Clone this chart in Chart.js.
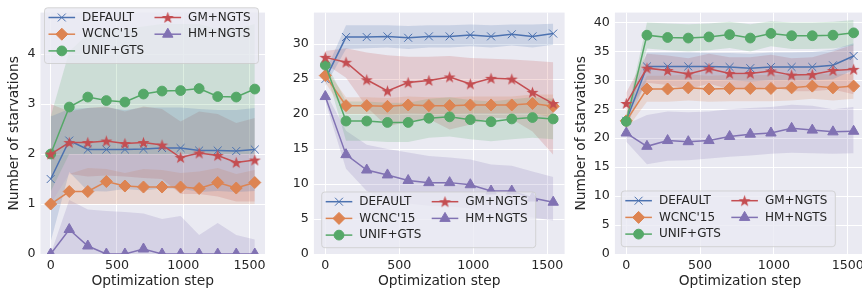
<!DOCTYPE html>
<html>
<head>
<meta charset="utf-8">
<script src="https://cdn.jsdelivr.net/npm/chart.js@4.4.1/dist/chart.umd.min.js"></script>
<style>
  body { margin: 0; background: #fff; overflow: hidden; width: 862px; height: 297px; position: relative; }
  canvas { position: absolute; top: 0; }
</style>
</head>
<body>
<canvas id="c1" width="272" height="297" style="left:0px"></canvas>
<canvas id="c2" width="300" height="297" style="left:272px"></canvas>
<canvas id="c3" width="300" height="297" style="left:572px"></canvas>
<script>
// optimization steps (x)
const steps = [0, 140, 280, 420, 560, 700, 840, 980, 1120, 1260, 1400, 1540];
const xTicks = [0, 500, 1000, 1500];
const seriesNames = ["DEFAULT", "WCNC'15", "UNIF+GTS", "GM+NGTS", "HM+NGTS"];

// ---- panel 1 ----
const p1Default   = [1.5, 2.27, 2.09, 2.09, 2.09, 2.1, 2.12, 2.12, 2.07, 2.07, 2.06, 2.09];
const p1DefaultHi = [2.75, 2.9, 2.92, 2.93, 2.88, 2.93, 2.93, 2.93, 2.9, 2.88, 2.88, 2.92];
const p1DefaultLo = [0.25, 1.64, 1.26, 1.25, 1.3, 1.27, 1.31, 1.31, 1.24, 1.26, 1.24, 1.26];
const p1Wcnc   = [1.0, 1.25, 1.25, 1.45, 1.36, 1.34, 1.34, 1.34, 1.31, 1.43, 1.32, 1.43];
const p1WcncHi = [1.0, 1.6, 1.72, 1.7, 1.62, 1.7, 1.68, 1.62, 1.65, 1.72, 1.6, 1.68];
const p1WcncLo = [1.0, 1.0, 1.0, 1.0, 1.0, 1.0, 1.0, 1.0, 1.0, 1.0, 1.0, 1.0];
const p1Unif   = [2.0, 2.94, 3.14, 3.07, 3.04, 3.2, 3.26, 3.27, 3.31, 3.15, 3.14, 3.3];
const p1UnifHi = [2.75, 4.05, 4.4, 4.5, 4.5, 4.55, 4.6, 4.6, 4.6, 4.5, 4.5, 4.6];
const p1UnifLo = [1.25, 2.0, 2.0, 2.0, 2.0, 2.0, 2.0, 2.0, 2.0, 2.0, 2.0, 2.0];
const p1Gm   = [2.0, 2.23, 2.23, 2.26, 2.21, 2.23, 2.18, 1.93, 2.02, 1.97, 1.83, 1.88];
const p1GmHi = [3.0, 2.85, 2.92, 2.95, 2.85, 2.95, 2.9, 2.65, 2.85, 2.8, 2.62, 2.72];
const p1GmLo = [1.0, 1.6, 1.55, 1.57, 1.55, 1.52, 1.5, 1.2, 1.2, 1.15, 1.05, 1.05];
const p1Hm   = [0, 0.49, 0.16, 0, 0, 0.1, 0, 0, 0, 0, 0, 0];
const p1HmHi = [0, 1.08, 0.89, 0.86, 0.84, 0.81, 0.7, 0.76, 0.38, 0.62, 0.38, 0.29];
const p1HmLo = [0, 0, 0, 0, 0, 0, 0, 0, 0, 0, 0, 0];
const p1YTicks = [0, 1, 2, 3, 4];

// ---- panel 2 ----
const p2Default   = [25.0, 31.0, 31.0, 31.1, 30.9, 31.1, 31.1, 31.3, 31.1, 31.4, 31.1, 31.5];
const p2DefaultHi = [26.0, 32.7, 32.7, 32.7, 32.6, 32.7, 32.7, 32.8, 32.7, 32.8, 32.8, 32.9];
const p2DefaultLo = [24.0, 29.3, 29.4, 29.5, 29.3, 29.5, 29.5, 29.7, 29.5, 29.8, 29.5, 29.9];
const p2Wcnc   = [25.5, 21.2, 21.2, 21.1, 21.3, 21.2, 21.2, 21.3, 21.3, 21.3, 21.5, 21.1];
const p2WcncHi = [26.5, 22.4, 22.4, 22.3, 22.5, 22.4, 22.4, 22.5, 22.5, 22.5, 22.8, 22.8];
const p2WcncLo = [24.5, 20.0, 20.0, 19.9, 20.1, 20.0, 20.0, 20.1, 20.1, 20.1, 20.2, 19.4];
const p2Unif   = [27.0, 19.0, 19.0, 18.8, 18.8, 19.4, 19.6, 19.2, 18.9, 19.3, 19.5, 19.3];
const p2UnifHi = [27.5, 21.8, 21.8, 21.6, 21.6, 22.2, 22.4, 22.0, 21.8, 22.1, 22.4, 22.2];
const p2UnifLo = [26.5, 16.2, 16.2, 16.0, 16.0, 16.6, 16.8, 16.4, 16.1, 16.4, 16.6, 16.4];
const p2Gm   = [28.1, 27.4, 24.9, 23.3, 24.5, 24.8, 25.3, 24.3, 25.1, 25.0, 23.1, 21.5];
const p2GmHi = [29.0, 29.4, 28.8, 28.4, 28.2, 28.2, 28.3, 28.0, 27.9, 27.8, 27.6, 27.4];
const p2GmLo = [27.2, 25.2, 21.0, 18.2, 19.0, 19.3, 17.8, 18.5, 19.5, 19.3, 17.5, 14.2];
const p2Hm   = [22.5, 14.2, 12.0, 11.3, 10.5, 10.2, 10.2, 9.9, 9.0, 9.0, 8.0, 7.4];
const p2HmHi = [23.2, 17.6, 15.6, 15.0, 14.5, 14.0, 13.8, 13.5, 12.8, 12.6, 11.8, 11.0];
const p2HmLo = [21.8, 12.2, 9.0, 7.8, 7.2, 6.9, 6.8, 6.5, 5.8, 5.8, 5.2, 4.8];
const p2YTicks = [0, 5, 10, 15, 20, 25, 30];

// ---- panel 3 ----
const p3Default   = [23.0, 32.4, 32.4, 32.4, 32.4, 32.3, 32.1, 32.3, 32.3, 32.3, 32.6, 34.2];
const p3DefaultHi = [24.0, 34.8, 34.8, 34.8, 34.7, 34.7, 34.6, 34.8, 34.8, 34.9, 35.3, 36.4];
const p3DefaultLo = [22.0, 30.1, 30.1, 30.1, 30.1, 30.0, 29.8, 30.0, 30.0, 30.0, 30.2, 31.8];
const p3Wcnc   = [23.0, 28.5, 28.5, 28.7, 28.5, 28.6, 28.6, 28.6, 28.7, 29.0, 28.7, 29.0];
const p3WcncHi = [24.5, 30.8, 30.8, 31.0, 30.8, 30.9, 30.9, 30.9, 31.0, 31.2, 31.0, 31.2];
const p3WcncLo = [21.5, 26.3, 26.3, 26.5, 26.3, 26.4, 26.4, 26.4, 26.5, 26.8, 26.5, 26.8];
const p3Unif   = [22.9, 37.8, 37.4, 37.3, 37.5, 37.9, 37.3, 38.1, 37.7, 37.7, 37.8, 38.2];
const p3UnifHi = [23.9, 40.0, 39.8, 39.7, 39.8, 40.1, 39.7, 40.2, 40.0, 40.0, 40.1, 40.4];
const p3UnifLo = [21.9, 35.5, 35.2, 35.0, 35.2, 35.6, 35.0, 35.9, 35.4, 35.4, 35.5, 36.0];
const p3Gm   = [26.0, 32.1, 31.7, 31.1, 32.0, 31.2, 31.2, 31.6, 30.9, 31.0, 31.7, 31.9];
const p3GmHi = [27.9, 34.6, 34.3, 33.8, 34.6, 34.0, 34.0, 34.4, 33.8, 34.0, 35.0, 36.2];
const p3GmLo = [24.1, 29.6, 29.2, 28.5, 29.4, 28.5, 28.5, 28.9, 28.1, 28.1, 28.4, 27.6];
const p3Hm   = [20.9, 18.6, 19.6, 19.4, 19.6, 20.3, 20.7, 20.9, 21.7, 21.4, 21.1, 21.2];
const p3HmHi = [22.4, 24.0, 24.6, 24.5, 24.6, 25.0, 25.2, 25.4, 25.8, 25.6, 25.0, 25.4];
const p3HmLo = [19.4, 15.5, 16.1, 16.2, 16.5, 16.8, 17.0, 17.3, 17.5, 17.4, 17.3, 17.4];
const p3YTicks = [0, 5, 10, 15, 20, 25, 30, 35, 40];

const FONT = "'DejaVu Sans'";
const TEXT = '#262626';
const colors = ['#4C72B0', '#DD8452', '#55A868', '#C44E52', '#8172B3'];

function rgba(hex, a) {
    const n = parseInt(hex.slice(1), 16);
    return `rgba(${n >> 16}, ${(n >> 8) & 255}, ${n & 255}, ${a})`;
}

// filled five point star like matplotlib '*'
function starImage(color, r) {
    const c = document.createElement('canvas');
    const s = Math.ceil(r * 2) + 2;
    c.width = c.height = s;
    const g = c.getContext('2d');
    g.beginPath();
    for (let k = 0; k < 10; k++) {
        const rad = k % 2 ? r * 0.4 : r;
        const a = -Math.PI / 2 + k * Math.PI / 5;
        g.lineTo(s / 2 + rad * Math.cos(a), s / 2 + rad * Math.sin(a) + 0.5);
    }
    g.closePath();
    g.fillStyle = color;
    g.fill();
    return c;
}

const markers = [
    { pointStyle: 'crossRot', radius: 5.6, borderWidth: 1 },
    { pointStyle: 'rectRot', radius: 6, borderWidth: 1 },
    { pointStyle: 'circle', radius: 4.9, borderWidth: 1 },
    { pointStyle: starImage(colors[3], 6.3), radius: 6, borderWidth: 0 },
    { pointStyle: 'triangle', radius: 6, borderWidth: 1 }
];

const plotBg = {
    id: 'plotBg',
    beforeDraw(chart) {
        const a = chart.chartArea;
        chart.ctx.save();
        chart.ctx.fillStyle = '#EAEAF2';
        chart.ctx.fillRect(a.left, a.top, a.right - a.left, a.bottom - a.top);
        chart.ctx.restore();
    }
};

const boxLegend = {
    id: 'boxLegend',
    afterDatasetsDraw(chart, args, opts) {
        const ctx = chart.ctx;
        const x = opts.x, y = opts.y, w = 214, h = 55.7;
        ctx.save();
        ctx.beginPath();
        ctx.roundRect(x, y, w, h, 3);
        ctx.fillStyle = 'rgba(234, 234, 242, 0.8)';
        ctx.fill();
        ctx.strokeStyle = 'rgba(204, 204, 204, 0.8)';
        ctx.lineWidth = 1;
        ctx.stroke();
        ctx.font = `12px ${FONT}`;
        ctx.textBaseline = 'middle';
        seriesNames.forEach((name, i) => {
            const col = i < 3 ? 0 : 1;
            const row = i < 3 ? i : i - 3;
            const lx = x + (col ? 110 : 4);
            const ly = y + 9.7 + row * 16.7;
            ctx.strokeStyle = colors[i];
            ctx.fillStyle = colors[i];
            ctx.lineWidth = 1.5;
            ctx.beginPath();
            ctx.moveTo(lx, ly);
            ctx.lineTo(lx + 26.6, ly);
            ctx.stroke();
            const m = markers[i];
            ctx.lineWidth = m.borderWidth;
            Chart.helpers.drawPoint(ctx, { pointStyle: m.pointStyle, radius: m.radius, rotation: 0, borderWidth: m.borderWidth }, lx + 13.3, ly);
            ctx.fillStyle = TEXT;
            ctx.fillText(name, lx + 33.6, ly);
        });
        ctx.restore();
    }
};

function pts(values) {
    return values.map((v, i) => ({ x: steps[i], y: v }));
}

function plot_panel(canvasId, means, his, los, panel) {
    const datasets = [];
    means.forEach((m, i) => {
        datasets.push({
            data: pts(his[i]), borderWidth: 0, borderColor: 'transparent', pointRadius: 0,
            fill: '+1', backgroundColor: rgba(colors[i], 0.2), order: 20
        });
        datasets.push({
            data: pts(los[i]), borderWidth: 0, borderColor: 'transparent', pointRadius: 0,
            fill: false, order: 20
        });
    });
    means.forEach((m, i) => {
        datasets.push({
            data: pts(m),
            borderColor: colors[i],
            backgroundColor: colors[i],
            borderWidth: 1.5,
            pointStyle: markers[i].pointStyle,
            pointRadius: markers[i].radius,
            pointBorderWidth: markers[i].borderWidth,
            fill: false,
            order: 5 - i
        });
    });

    new Chart(document.getElementById(canvasId), {
        type: 'line',
        data: { datasets: datasets },
        options: {
            responsive: false,
            animation: false,
            events: [],
            devicePixelRatio: 1,
            layout: { padding: { left: 0, right: panel.padRight, top: 1, bottom: 0 } },
            plugins: {
                legend: { display: false },
                tooltip: { enabled: false },
                filler: { drawTime: 'beforeDatasetsDraw' },
                boxLegend: panel.legendAt
            },
            scales: {
                x: {
                    type: 'linear',
                    min: -77,
                    max: 1617,
                    afterBuildTicks: s => { s.ticks = xTicks.map(v => ({ value: v })); },
                    afterFit: s => { s.height = 43; },
                    grid: { color: '#ffffff', lineWidth: 1, drawTicks: false },
                    border: { display: false },
                    ticks: {
                        padding: 4, color: TEXT, maxRotation: 0, autoSkip: false,
                        font: { family: FONT, size: 12.65 },
                        callback: v => String(v)
                    },
                    title: {
                        display: true, text: 'Optimization step', color: TEXT,
                        font: { family: FONT, size: 13.8 },
                        padding: { top: 0, bottom: 7 }
                    }
                },
                y: {
                    type: 'linear',
                    min: 0,
                    max: panel.yMax,
                    afterBuildTicks: s => { s.ticks = panel.yTicks.map(v => ({ value: v })); },
                    afterFit: s => { s.width = panel.yWidth; },
                    grid: { color: '#ffffff', lineWidth: 1, drawTicks: false },
                    border: { display: false },
                    ticks: {
                        padding: 5, color: TEXT, autoSkip: false,
                        font: { family: FONT, size: 12.65 },
                        callback: v => String(v)
                    },
                    title: {
                        display: panel.yTitle, text: 'Number of starvations', color: TEXT,
                        font: { family: FONT, size: 13.8 },
                        padding: { top: panel.yTitlePad, bottom: 0 }
                    }
                }
            }
        },
        plugins: [plotBg, boxLegend]
    });
}

plot_panel('c1',
    [p1Default, p1Wcnc, p1Unif, p1Gm, p1Hm],
    [p1DefaultHi, p1WcncHi, p1UnifHi, p1GmHi, p1HmHi],
    [p1DefaultLo, p1WcncLo, p1UnifLo, p1GmLo, p1HmLo],
    { yMax: 4.83, yTicks: p1YTicks, yWidth: 40.5, padRight: 6.1, yTitle: true, yTitlePad: 6.4,
      legendAt: { x: 44.5, y: 7.8 } });

plot_panel('c2',
    [p2Default, p2Wcnc, p2Unif, p2Gm, p2Hm],
    [p2DefaultHi, p2WcncHi, p2UnifHi, p2GmHi, p2HmHi],
    [p2DefaultLo, p2WcncLo, p2UnifLo, p2GmLo, p2HmLo],
    { yMax: 34.5, yTicks: p2YTicks, yWidth: 41.9, padRight: 7.4, yTitle: false, yTitlePad: 0,
      legendAt: { x: 49.7, y: 192 } });

plot_panel('c3',
    [p3Default, p3Wcnc, p3Unif, p3Gm, p3Hm],
    [p3DefaultHi, p3WcncHi, p3UnifHi, p3GmHi, p3HmHi],
    [p3DefaultLo, p3WcncLo, p3UnifLo, p3GmLo, p3HmLo],
    { yMax: 41.7, yTicks: p3YTicks, yWidth: 42.9, padRight: 6.9, yTitle: true, yTitlePad: 1.4,
      legendAt: { x: 49.3, y: 191 } });
</script>
</body>
</html>
